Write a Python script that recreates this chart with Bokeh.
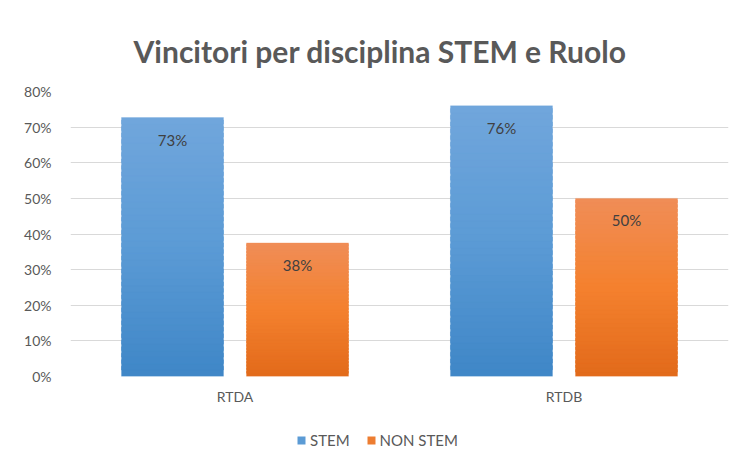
import numpy as np
from bokeh.plotting import figure
from bokeh.layouts import column
from bokeh.models import (Range1d, FixedTicker, NumeralTickFormatter, Legend, LegendItem,
                          ColumnDataSource)
from bokeh.core.properties import value
from bokeh.embed import file_html
from bokeh.resources import INLINE

# ---- data ----
categories = ["RTDA", "RTDB"]
series_names = ["STEM", "NON STEM"]
stem = [0.727, 0.76]
non_stem = [0.375, 0.50]
labels_stem = ["73%", "76%"]
labels_non_stem = ["38%", "50%"]
y_ticks = [0, 0.1, 0.2, 0.3, 0.4, 0.5, 0.6, 0.7, 0.8]

# gradient stops (top, middle, bottom)
grad_stem = [(113, 166, 220), (91, 155, 213), (63, 134, 199)]
grad_non = [(240, 141, 87), (244, 129, 46), (226, 106, 27)]
legend_colors = ["#5b9bd5", "#ed7d31"]

FONT = "Lato"
GREY = "#595959"

p = figure(width=735, height=407, output_backend="svg", toolbar_location=None,
           x_range=Range1d(0, len(categories)), y_range=Range1d(0, 0.8),
           min_border_left=70, min_border_right=7, min_border_top=91, min_border_bottom=28)

p.title.text = "Vincitori per disciplina STEM e Ruolo"
p.title.text_font = FONT
p.title.text_font_size = "30px"
p.title.text_font_style = "bold"
p.title.text_color = GREY
p.title.align = "left"
p.title.offset = 63
p.title.standoff = 45

p.outline_line_color = None
p.xgrid.grid_line_color = None
p.ygrid.grid_line_color = "#d9d9d9"
p.ygrid.grid_line_width = 1

centers = [i + 0.5 for i in range(len(categories))]
p.xaxis.ticker = FixedTicker(ticks=centers)
p.xaxis.major_label_overrides = {c: cat for c, cat in zip(centers, categories)}
p.yaxis.ticker = FixedTicker(ticks=y_ticks)
p.yaxis.formatter = NumeralTickFormatter(format="0%")
for ax in (p.xaxis, p.yaxis):
    ax.axis_line_color = None
    ax.major_tick_line_color = None
    ax.minor_tick_line_color = None
    ax.major_label_text_font = FONT
    ax.major_label_text_font_size = "14px"
    ax.major_label_text_color = GREY
p.yaxis.major_label_standoff = 13
p.xaxis.major_label_standoff = 5

bar_w = 0.31
offsets = [-0.19, 0.19]
N = 40


def interp(stops, t):
    # t=0 top, t=1 bottom
    if t <= 0.5:
        a, b, u = stops[0], stops[1], t / 0.5
    else:
        a, b, u = stops[1], stops[2], (t - 0.5) / 0.5
    c = [int(round(a[k] + (b[k] - a[k]) * u)) for k in range(3)]
    return "#%02x%02x%02x" % tuple(c)


for vals, off, stops in ((stem, offsets[0], grad_stem), (non_stem, offsets[1], grad_non)):
    L, R, B, T, C = [], [], [], [], []
    for c, v in zip(centers, vals):
        edges = np.linspace(0, v, N + 1)
        for j in range(N):
            L.append(c + off - bar_w / 2)
            R.append(c + off + bar_w / 2)
            B.append(edges[j])
            T.append(min(edges[j + 1] + (v / N) * 0.6, v))
            C.append(interp(stops, 1 - (j + 0.5) / N))
    p.quad(left=L, right=R, bottom=B, top=T, fill_color=C, line_color=C, line_width=0.3)

# data labels
for vals, labs, off in ((stem, labels_stem, offsets[0]), (non_stem, labels_non_stem, offsets[1])):
    src = ColumnDataSource(dict(x=[c + off for c in centers], y=vals, t=labs))
    p.text(x="x", y="y", text="t", source=src, text_align="center", text_baseline="top",
           y_offset=13, text_font=value(FONT), text_font_size="15px", text_color="#404040")

# legend (separate strip below the chart)
lf = figure(width=735, height=46, output_backend="svg", toolbar_location=None,
            x_range=Range1d(0, 1), y_range=Range1d(0, 1),
            min_border_left=0, min_border_right=0, min_border_top=0, min_border_bottom=0)
lf.axis.visible = False
lf.grid.visible = False
lf.outline_line_color = None
items = []
for name, col in zip(series_names, legend_colors):
    d = lf.quad(left=[-3], right=[-2], bottom=[-3], top=[-2], fill_color=col, line_color=None)
    items.append(LegendItem(label=name, renderers=[d]))
legend = Legend(items=items, orientation="horizontal", location=(226, 4),
                label_text_font=FONT, label_text_font_size="15px", label_text_color=GREY,
                border_line_color=None, background_fill_alpha=0, glyph_width=10,
                glyph_height=10, spacing=16, label_standoff=4, margin=0, padding=4)
lf.add_layout(legend)

open("out.html", "w").write(file_html(column(p, lf, spacing=0), INLINE))
